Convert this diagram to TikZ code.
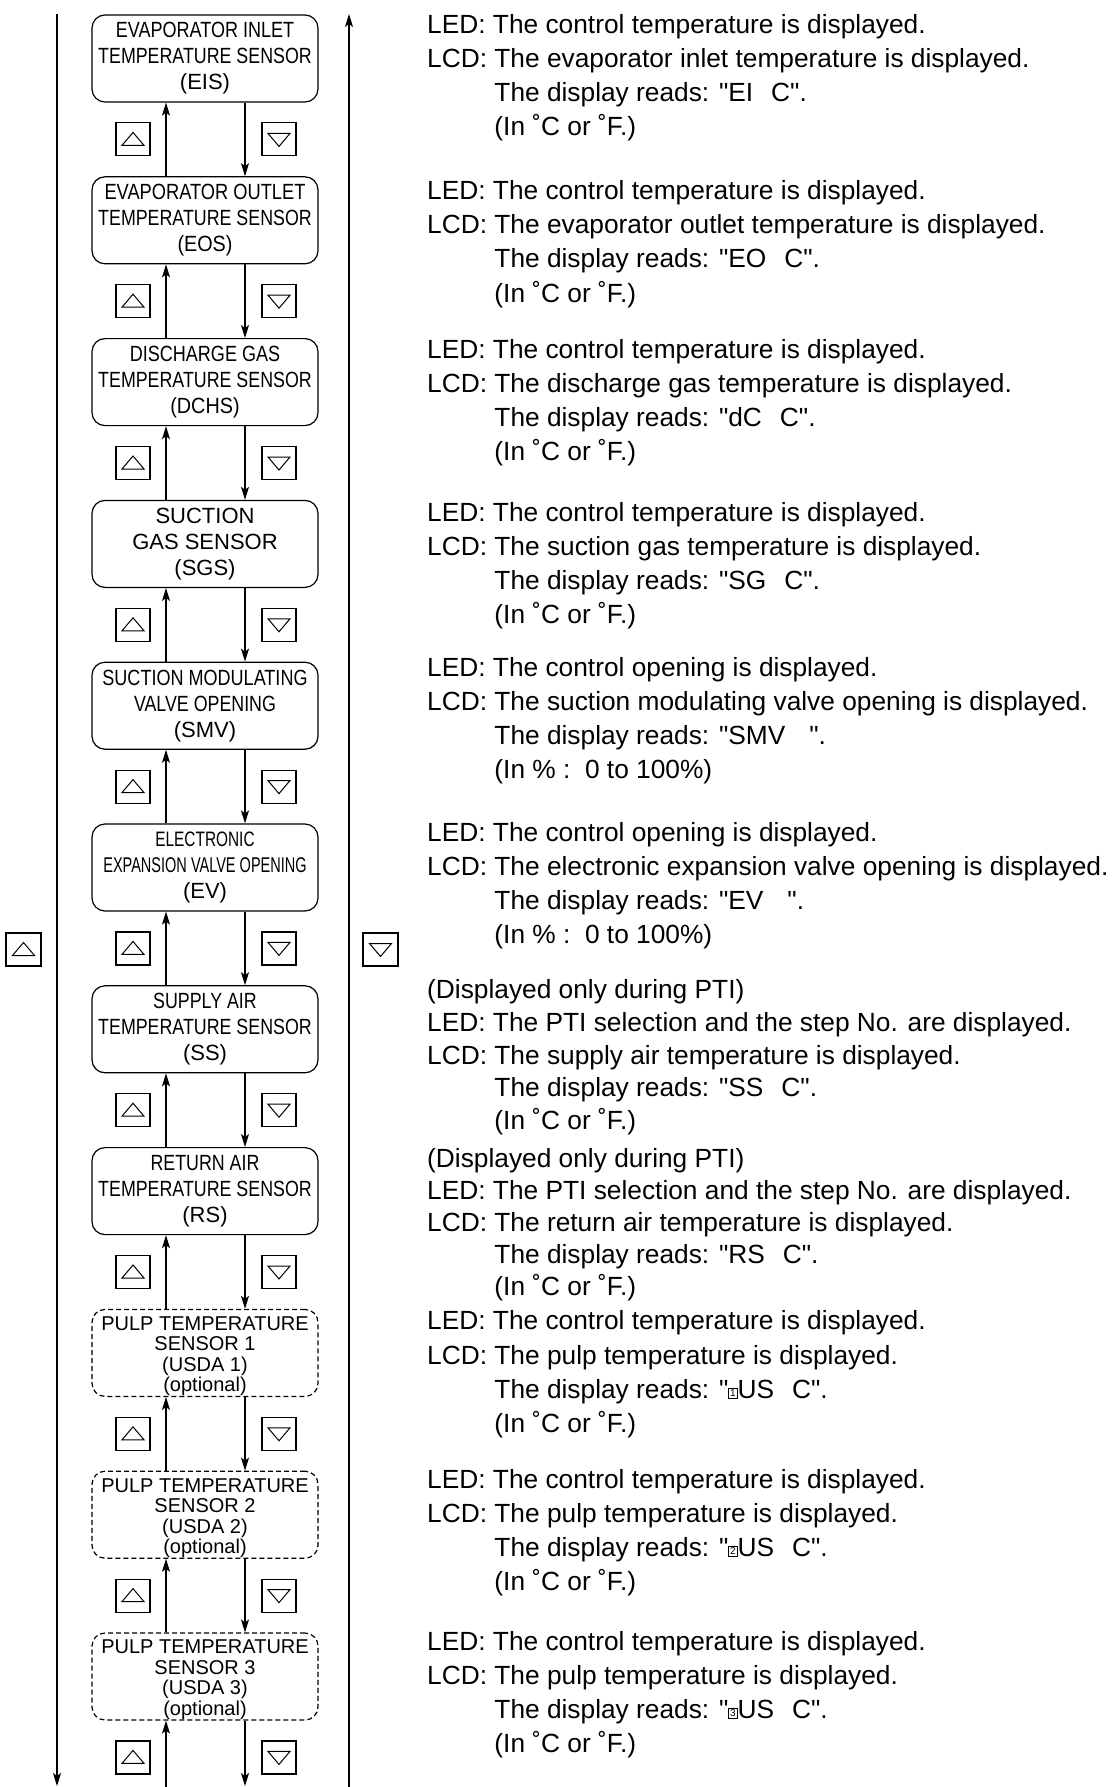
\documentclass[tikz,border=0pt]{standalone}
\usepackage{graphicx}
\usepackage{fontspec}
\setmainfont{Liberation Sans}
\newfontfamily\lib{Liberation Sans}
\usetikzlibrary{arrows.meta}
\newcommand\cx[2][0.82]{\scalebox{#1}[1]{#2}}
\newcommand\bxd[1]{\raisebox{1.5pt}{\setlength\fboxsep{1pt}\setlength\fboxrule{0.8pt}\fbox{\fontsize{10}{10}\selectfont #1}}}
\newcommand\dg{˚}
\newcommand\ind{\phantom{LCD: }}
\newcommand\tstrut{\rule{0pt}{20.5pt}}
\begin{document}
\begin{tikzpicture}[x=1pt,y=-1pt,
  sbox/.style={draw, line width=1.2pt, rounded corners=13pt, minimum width=226pt, minimum height=87pt, inner sep=0pt, align=center, font=\fontsize{22}{26}\selectfont},
  obox/.style={sbox, dash pattern=on 5pt off 3pt, font=\fontsize{20}{20.5}\selectfont},
  btn/.style={draw, line width=1.2pt, minimum width=34pt, minimum height=33pt, inner sep=0pt},
  arr/.style={line width=1.2pt, -{Stealth[length=13pt,width=8pt,inset=3pt]}},
  tl/.style={anchor=base west, inner sep=0pt, font=\lib\fontsize{26.3}{34}\selectfont},
  tri/.style={line width=1pt}]
\useasboundingbox (0,0) rectangle (1113,1787);
% sensor boxes
\node[sbox] (b1) at (205,58.5) {\cx{EVAPORATOR INLET}\\\cx[0.81]{TEMPERATURE SENSOR}\\(EIS)};
\node[sbox] (b2) at (205,220.3) {\cx[0.83]{EVAPORATOR OUTLET}\\\cx[0.81]{TEMPERATURE SENSOR}\\\cx[0.9]{(EOS)}};
\node[sbox] (b3) at (205,382.1) {\cx{DISCHARGE GAS}\\\cx[0.81]{TEMPERATURE SENSOR}\\\cx[0.9]{(DCHS)}};
\node[sbox] (b4) at (205,543.9) {SUCTION\\GAS SENSOR\\(SGS)};
\node[sbox] (b5) at (205,705.7) {\cx{SUCTION MODULATING}\\\cx[0.81]{VALVE OPENING}\\(SMV)};
\node[sbox] (b6) at (205,867.5) {\scalebox{0.7}[0.95]{ELECTRONIC}\\\scalebox{0.66}[0.97]{EXPANSION VALVE OPENING}\\(EV)};
\node[sbox] (b7) at (205,1029.3) {\cx[0.81]{SUPPLY AIR}\\\cx[0.81]{TEMPERATURE SENSOR}\\(SS)};
\node[sbox] (b8) at (205,1191.1) {\cx[0.81]{RETURN AIR}\\\cx[0.81]{TEMPERATURE SENSOR}\\(RS)};
\node[obox] (b9) at (205,1352.9) {\tstrut PULP TEMPERATURE\\SENSOR 1\\(USDA 1)\\(optional)};
\node[obox] (b10) at (205,1514.7) {\tstrut PULP TEMPERATURE\\SENSOR 2\\(USDA 2)\\(optional)};
\node[obox] (b11) at (205,1676.5) {\tstrut PULP TEMPERATURE\\SENSOR 3\\(USDA 3)\\(optional)};
% helper coordinates
\coordinate (ux) at (166,0);
\coordinate (dx) at (245,0);
\coordinate (bot) at (0,1787);
\coordinate (botd) at (0,1786);
% connectors between boxes
\foreach \k in {1,...,10}{
  \pgfmathtruncatemacro\n{\k+1}
  \draw[arr] (b\k.south -| dx) -- (b\n.north -| dx);
  \draw[arr] (b\n.north -| ux) -- (b\k.south -| ux);
}
\draw[arr] (b11.south -| dx) -- (botd -| dx);
\draw[arr] (bot -| ux) -- (b11.south -| ux);
% buttons
\foreach \k/\yy in {1/139.4,2/301.2,3/463,4/624.8,5/786.6,6/948.4,7/1110.2,8/1272,9/1433.8,10/1595.6,11/1757.4}{
  \node[btn] (u\k) at (133,\yy) {};
  \node[btn] (d\k) at (279,\yy) {};
  \draw[tri] (u\k.center) ++(-11,6) -- ++(22,0) -- ++(-11,-13) -- cycle;
  \draw[tri] (d\k.center) ++(-11,-6) -- ++(22,0) -- ++(-11,13) -- cycle;
}
% long side lines
\coordinate (ltop) at (57,14);
\coordinate (lbot) at (57,1786);
\coordinate (rtop) at (349,14);
\coordinate (rbot) at (349,1787);
\draw[arr] (ltop) -- (lbot);
\draw[arr] (rbot) -- (rtop);
\node[btn, minimum width=35pt] (lb) at (23.5,949.5) {};
\node[btn, minimum width=35pt] (rb) at (380.5,949.5) {};
\draw[tri] (lb.center) ++(-11,6) -- ++(22,0) -- ++(-11,-13) -- cycle;
\draw[tri] (rb.center) ++(-11,-6) -- ++(22,0) -- ++(-11,13) -- cycle;
% texts
\node[tl] (t1a) at (427,34) {LED: The control temperature is displayed.};
\node[tl] (t1b) at (427,68) {LCD: The evaporator inlet temperature is displayed.};
\node[tl] (t1c) at (427,102) {\ind The display reads: "EI\hspace{18pt}C".};
\node[tl] (t1d) at (427,136) {\ind (In \dg C or \dg F.)};
\node[tl] (t2a) at (427,200) {LED: The control temperature is displayed.};
\node[tl] (t2b) at (427,234) {LCD: The evaporator outlet temperature is displayed.};
\node[tl] (t2c) at (427,268) {\ind The display reads: "EO\hspace{18pt}C".};
\node[tl] (t2d) at (427,302) {\ind (In \dg C or \dg F.)};
\node[tl] (t3a) at (427,358) {LED: The control temperature is displayed.};
\node[tl] (t3b) at (427,392) {LCD: The discharge gas temperature is displayed.};
\node[tl] (t3c) at (427,426) {\ind The display reads: "dC\hspace{18pt}C".};
\node[tl] (t3d) at (427,460) {\ind (In \dg C or \dg F.)};
\node[tl] (t4a) at (427,521) {LED: The control temperature is displayed.};
\node[tl] (t4b) at (427,555) {LCD: The suction gas temperature is displayed.};
\node[tl] (t4c) at (427,589) {\ind The display reads: "SG\hspace{18pt}C".};
\node[tl] (t4d) at (427,623) {\ind (In \dg C or \dg F.)};
\node[tl] (t5a) at (427,676) {LED: The control opening is displayed.};
\node[tl] (t5b) at (427,710) {LCD: The suction modulating valve opening is displayed.};
\node[tl] (t5c) at (427,744) {\ind The display reads: "SMV\hspace{24pt}".};
\node[tl] (t5d) at (427,778) {\ind (In \% :\ \ 0 to 100\%)};
\node[tl] (t6a) at (427,841) {LED: The control opening is displayed.};
\node[tl] (t6b) at (427,875) {LCD: The electronic expansion valve opening is displayed.};
\node[tl] (t6c) at (427,909) {\ind The display reads: "EV\hspace{24pt}".};
\node[tl] (t6d) at (427,943) {\ind (In \% :\ \ 0 to 100\%)};
\node[tl] (t7a) at (427,998) {(Displayed only during PTI)};
\node[tl] (t7b) at (427,1031) {LED: The PTI selection and the step No. are displayed.};
\node[tl] (t7c) at (427,1064) {LCD: The supply air temperature is displayed.};
\node[tl] (t7d) at (427,1096) {\ind The display reads: "SS\hspace{18pt}C".};
\node[tl] (t7e) at (427,1129) {\ind (In \dg C or \dg F.)};
\node[tl] (t8a) at (427,1167) {(Displayed only during PTI)};
\node[tl] (t8b) at (427,1199) {LED: The PTI selection and the step No. are displayed.};
\node[tl] (t8c) at (427,1231) {LCD: The return air temperature is displayed.};
\node[tl] (t8d) at (427,1263) {\ind The display reads: "RS\hspace{18pt}C".};
\node[tl] (t8e) at (427,1295) {\ind (In \dg C or \dg F.)};
\node[tl] (t9a) at (427,1329) {LED: The control temperature is displayed.};
\node[tl] (t9b) at (427,1364) {LCD: The pulp temperature is displayed.};
\node[tl] (t9c) at (427,1398) {\ind The display reads: "\bxd{1}US\hspace{18pt}C".};
\node[tl] (t9d) at (427,1432) {\ind (In \dg C or \dg F.)};
\node[tl] (t10a) at (427,1488) {LED: The control temperature is displayed.};
\node[tl] (t10b) at (427,1522) {LCD: The pulp temperature is displayed.};
\node[tl] (t10c) at (427,1556) {\ind The display reads: "\bxd{2}US\hspace{18pt}C".};
\node[tl] (t10d) at (427,1590) {\ind (In \dg C or \dg F.)};
\node[tl] (t11a) at (427,1650) {LED: The control temperature is displayed.};
\node[tl] (t11b) at (427,1684) {LCD: The pulp temperature is displayed.};
\node[tl] (t11c) at (427,1718) {\ind The display reads: "\bxd{3}US\hspace{18pt}C".};
\node[tl] (t11d) at (427,1752) {\ind (In \dg C or \dg F.)};
\end{tikzpicture}
\end{document}
